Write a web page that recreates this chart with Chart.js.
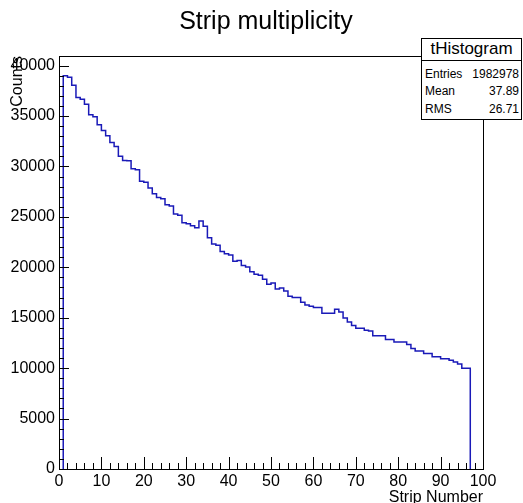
<!DOCTYPE html>
<html>
<head>
<meta charset="utf-8">
<script src="https://cdn.jsdelivr.net/npm/chart.js@4/dist/chart.umd.min.js"></script>
<style>
  html, body { margin: 0; padding: 0; background: #fff; }
  #wrap { position: relative; width: 523px; height: 503px; overflow: hidden; font-family: "Liberation Sans", Arial, sans-serif; color: #000; }
  #chart { position: absolute; left: 0; top: 0; }
  #title { position: absolute; left: 0; width: 532px; top: 5px; text-align: center; font-size: 25px; line-height: 30px; }
  #stats { position: absolute; left: 421px; top: 38px; width: 101px; height: 82px; box-sizing: border-box; border: 1px solid #000; background: #fff; }
  #stats .head { height: 21px; border-bottom: 1px solid #000; text-align: center; font-size: 17px; line-height: 20px; }
  #stats .row { position: absolute; left: 3px; right: 2px; height: 17px; font-size: 12px; line-height: 17px; }
  #stats .row span { position: absolute; right: 0; }
</style>
</head>
<body>
<div id="wrap">
  <canvas id="chart" width="523" height="503"></canvas>
  <div id="title">Strip multiplicity</div>
  <div id="stats">
    <div class="head">tHistogram</div>
    <div class="row" style="top:27px">Entries<span>1982978</span></div>
    <div class="row" style="top:44px">Mean<span>37.89</span></div>
    <div class="row" style="top:62px">RMS<span>26.71</span></div>
  </div>
</div>
<script>
// lower edge of each strip bin (bin width 1)
const stripBins = [1, 2, 3, 4, 5, 6, 7, 8, 9, 10, 11, 12, 13, 14, 15, 16, 17, 18, 19, 20,
  21, 22, 23, 24, 25, 26, 27, 28, 29, 30, 31, 32, 33, 34, 35, 36, 37, 38, 39, 40,
  41, 42, 43, 44, 45, 46, 47, 48, 49, 50, 51, 52, 53, 54, 55, 56, 57, 58, 59, 60,
  61, 62, 63, 64, 65, 66, 67, 68, 69, 70, 71, 72, 73, 74, 75, 76, 77, 78, 79, 80,
  81, 82, 83, 84, 85, 86, 87, 88, 89, 90, 91, 92, 93, 94, 95, 96];
const counts = [39000, 38850, 38050, 36830, 36660, 36170, 35120, 34920, 34130, 33560,
  33040, 32370, 31980, 31000, 30600, 30560, 29770, 29670, 28540, 28440,
  27850, 27290, 26930, 26800, 26200, 26070, 25280, 25150, 24420, 24320,
  24120, 23930, 24600, 24070, 22940, 22300, 22190, 21560, 21350, 21210,
  20600, 20680, 20180, 20030, 19570, 19300, 19210, 18810, 18320, 18440,
  17850, 17950, 17650, 17130, 17000, 17000, 16530, 16270, 16140, 16010,
  16010, 15440, 15440, 15440, 15830, 15570, 14970, 14580, 14240, 13960,
  13960, 13760, 13690, 13200, 13200, 13200, 12840, 12840, 12600, 12600,
  12600, 12340, 11950, 11710, 11710, 11450, 11450, 11120, 11120, 10920,
  10920, 10790, 10620, 10400, 10000, 10000];
const xTicks = [0, 10, 20, 30, 40, 50, 60, 70, 80, 90, 100];
const yTicks = [0, 5000, 10000, 15000, 20000, 25000, 30000, 35000, 40000];
const binWidth = 1;
const yMax = 40950;

// outline of the histogram: up at first edge, one point per bin, down at last edge
const points = [{ x: stripBins[0], y: 0 }];
stripBins.forEach((b, i) => points.push({ x: b, y: counts[i] }));
const lastEdge = stripBins[stripBins.length - 1] + binWidth;
points.push({ x: lastEdge, y: counts[counts.length - 1] });
points.push({ x: lastEdge, y: 0 });

// ROOT-style frame with ticks pointing inside
const rootFrame = {
  id: 'rootFrame',
  afterDatasetsDraw(chart) {
    const { ctx, chartArea: a, scales } = chart;
    ctx.save();
    ctx.strokeStyle = '#000';
    ctx.lineWidth = 1;
    ctx.strokeRect(a.left + 0.5, a.top + 0.5, a.right - a.left, a.bottom - a.top);
    ctx.beginPath();
    for (let v = 0; v <= 100; v += 2) {
      const px = Math.round(scales.x.getPixelForValue(v)) + 0.5;
      const len = v % 10 === 0 ? 12 : 6;
      ctx.moveTo(px, a.bottom);
      ctx.lineTo(px, a.bottom - len);
    }
    for (let v = 0; v <= yMax; v += 1000) {
      const py = Math.round(scales.y.getPixelForValue(v)) + 0.5;
      const len = v % 5000 === 0 ? 10 : 5;
      ctx.moveTo(a.left, py);
      ctx.lineTo(a.left + len, py);
    }
    ctx.stroke();
    ctx.restore();
  }
};

Chart.defaults.font.family = '"Liberation Sans", Arial, sans-serif';
Chart.defaults.color = '#000';

new Chart(document.getElementById('chart'), {
  type: 'line',
  data: {
    datasets: [{
      data: points,
      stepped: true,
      borderColor: '#1a1ab8',
      borderWidth: 1.5,
      pointRadius: 0,
      fill: false
    }]
  },
  options: {
    responsive: false,
    animation: false,
    devicePixelRatio: 1,
    layout: { padding: { left: 0, right: 40, top: 56, bottom: 0 } },
    plugins: { legend: { display: false }, tooltip: { enabled: false } },
    scales: {
      x: {
        type: 'linear',
        min: 0,
        max: 100,
        afterBuildTicks: s => { s.ticks = xTicks.map(v => ({ value: v })); },
        afterFit: s => { s.height = 34; },
        ticks: { font: { size: 16 }, padding: 3, maxRotation: 0, autoSkip: false, callback: v => String(v) },
        grid: { display: false, drawTicks: false },
        border: { display: false },
        title: { display: true, text: 'Strip Number', align: 'end', font: { size: 16 }, padding: { top: 0, bottom: -4 } }
      },
      y: {
        min: 0,
        max: yMax,
        afterBuildTicks: s => { s.ticks = yTicks.map(v => ({ value: v })); },
        afterFit: s => { s.width = 59; },
        ticks: { font: { size: 16 }, padding: 4, callback: v => String(v) },
        grid: { display: false, drawTicks: false },
        border: { display: false },
        title: { display: true, text: 'Counts', align: 'end', font: { size: 16 }, padding: { top: 8, bottom: 0 } }
      }
    }
  },
  plugins: [rootFrame]
});
</script>
</body>
</html>
